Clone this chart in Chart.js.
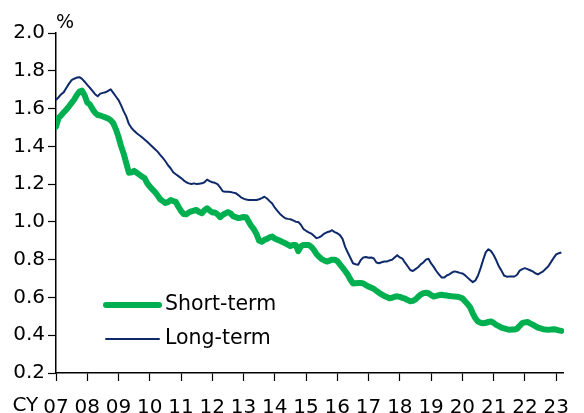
<!DOCTYPE html>
<html>
<head>
<meta charset="utf-8">
<script src="https://cdn.jsdelivr.net/npm/chart.js@4/dist/chart.umd.min.js"></script>
<style>
  html, body { margin: 0; padding: 0; background: #fff; }
  canvas { display: block; }
</style>
</head>
<body>
<canvas id="chart" width="584" height="413"></canvas>
<script>
// Monthly series, first observation January 2007
const startYear = 2007;
const seriesNames = ['Short-term', 'Long-term'];

const shortTerm = [
  1.504, 1.55, 1.565, 1.58, 1.595, 1.612, 1.63, 1.648, 1.672, 1.69, 1.695, 1.67,
  1.632, 1.622, 1.598, 1.578, 1.566, 1.563, 1.558, 1.553, 1.547, 1.538, 1.522, 1.49,
  1.45, 1.4, 1.36, 1.31, 1.26, 1.262, 1.27, 1.26, 1.25, 1.24, 1.232, 1.205,
  1.187, 1.172, 1.158, 1.14, 1.12, 1.11, 1.1, 1.105, 1.116, 1.11, 1.106, 1.08,
  1.058, 1.042, 1.04, 1.05, 1.056, 1.06, 1.063, 1.052, 1.046, 1.062, 1.072, 1.06,
  1.05, 1.05, 1.04, 1.025, 1.037, 1.045, 1.052, 1.045, 1.03, 1.025, 1.02, 1.022,
  1.026, 1.025, 1.0, 0.978, 0.96, 0.935, 0.9, 0.895, 0.905, 0.91, 0.918, 0.922,
  0.912, 0.906, 0.9, 0.893, 0.887, 0.88, 0.872, 0.878, 0.878, 0.845, 0.87, 0.878,
  0.878, 0.878, 0.868, 0.852, 0.83, 0.815, 0.803, 0.796, 0.79, 0.795, 0.8, 0.8,
  0.792, 0.775, 0.758, 0.74, 0.72, 0.695, 0.674, 0.675, 0.676, 0.676, 0.674, 0.665,
  0.657, 0.652, 0.645, 0.635, 0.625, 0.616, 0.608, 0.602, 0.596, 0.598, 0.604, 0.606,
  0.603, 0.598, 0.594, 0.586, 0.58, 0.582, 0.59, 0.603, 0.615, 0.623, 0.625, 0.622,
  0.612, 0.605, 0.608, 0.612, 0.614, 0.612, 0.61, 0.608, 0.606, 0.605, 0.604, 0.6,
  0.595, 0.58, 0.565, 0.548, 0.515, 0.49, 0.472, 0.466, 0.463, 0.466, 0.47, 0.473,
  0.465, 0.455, 0.448, 0.44, 0.436, 0.432, 0.429, 0.43, 0.43, 0.435, 0.45, 0.464,
  0.468, 0.47, 0.463, 0.456, 0.448, 0.44, 0.436, 0.432, 0.43, 0.429, 0.43, 0.432,
  0.43, 0.426, 0.423
];

const longTerm = [
  1.645, 1.66, 1.676, 1.687, 1.71, 1.732, 1.75, 1.758, 1.764, 1.766, 1.757, 1.742,
  1.725, 1.71, 1.694, 1.676, 1.665, 1.679, 1.683, 1.686, 1.694, 1.702, 1.683, 1.664,
  1.645, 1.617, 1.585, 1.557, 1.518, 1.497, 1.482, 1.469, 1.459, 1.448, 1.436, 1.424,
  1.411, 1.398, 1.385, 1.372, 1.355, 1.339, 1.321, 1.3, 1.284, 1.263, 1.252, 1.242,
  1.232, 1.22, 1.21, 1.204, 1.201, 1.204, 1.2, 1.202, 1.204, 1.21, 1.224, 1.216,
  1.21, 1.207, 1.2, 1.183, 1.162, 1.16, 1.16, 1.158, 1.155, 1.152, 1.142, 1.13,
  1.123, 1.118, 1.116, 1.116, 1.116, 1.116, 1.12, 1.126, 1.133, 1.124, 1.11, 1.097,
  1.075, 1.058, 1.042, 1.03, 1.019, 1.016, 1.014, 1.008, 1.001, 1.0, 0.985, 0.962,
  0.953, 0.945, 0.938, 0.926, 0.914, 0.918, 0.926, 0.938, 0.945, 0.949, 0.956, 0.946,
  0.94, 0.93, 0.91, 0.868, 0.838, 0.81, 0.781, 0.776, 0.773, 0.798, 0.812, 0.814,
  0.81, 0.812, 0.806, 0.785, 0.781, 0.786, 0.79, 0.79, 0.796, 0.8, 0.812, 0.824,
  0.812, 0.805, 0.784, 0.765, 0.745, 0.74, 0.75, 0.76, 0.775, 0.785, 0.8, 0.805,
  0.78, 0.762, 0.74, 0.722, 0.706, 0.705, 0.716, 0.722, 0.732, 0.738, 0.735, 0.73,
  0.727, 0.718, 0.705, 0.692, 0.681, 0.69, 0.716, 0.755, 0.8, 0.84, 0.855, 0.845,
  0.825, 0.797, 0.765, 0.742, 0.716, 0.71, 0.711, 0.711, 0.711, 0.72, 0.742, 0.75,
  0.755, 0.75, 0.744, 0.738, 0.728, 0.722, 0.73, 0.738, 0.752, 0.765, 0.787, 0.808,
  0.828, 0.834, 0.838
];

const yearTicks = [2007, 2008, 2009, 2010, 2011, 2012, 2013, 2014, 2015,
                   2016, 2017, 2018, 2019, 2020, 2021, 2022, 2023];
const yearLabels = ['07', '08', '09', '10', '11', '12', '13', '14', '15',
                    '16', '17', '18', '19', '20', '21', '22', '23'];
const yTicks = [0.2, 0.4, 0.6, 0.8, 1.0, 1.2, 1.4, 1.6, 1.8, 2.0];
const axisPrefix = 'CY';
const unitLabel = '%';

const GREEN = '#00B050';
const NAVY = '#0F2A6B';
const FONT = '"DejaVu Sans", "Liberation Sans", Arial, sans-serif';
const TICK_LEN = 8;
const X_PAD = 15;

function toPoints(values) {
  return values.map((v, i) => ({ x: startYear + i / 12, y: v }));
}

// Extra text and the legend key drawn on top of the chart
const annotations = {
  id: 'annotations',
  afterDraw(chart) {
    const ctx = chart.ctx;
    const xs = chart.scales.x;
    const ys = chart.scales.y;
    ctx.save();
    ctx.fillStyle = '#000';

    // unit above the value axis
    ctx.font = '19px ' + FONT;
    ctx.textAlign = 'left';
    ctx.textBaseline = 'alphabetic';
    ctx.fillText(unitLabel, ys.right, ys.top - 5);

    // calendar-year prefix in front of the first year label
    ctx.font = '20px ' + FONT;
    const firstW = ctx.measureText(yearLabels[0]).width;
    ctx.textAlign = 'right';
    ctx.textBaseline = 'top';
    ctx.fillText(axisPrefix, xs.getPixelForValue(yearTicks[0]) - firstW / 2 - 5,
                 xs.top + TICK_LEN + X_PAD);

    // legend key inside the plot
    const keys = [
      { ds: chart.data.datasets[0], y: ys.top + 272 },
      { ds: chart.data.datasets[1], y: ys.top + 306 }
    ];
    const x0 = xs.left + 50, x1 = xs.left + 103;
    ctx.font = '20.5px ' + FONT;
    ctx.textAlign = 'left';
    ctx.textBaseline = 'middle';
    keys.forEach(k => {
      ctx.strokeStyle = k.ds.borderColor;
      ctx.lineWidth = k.ds.borderWidth;
      ctx.lineCap = 'round';
      ctx.beginPath();
      ctx.moveTo(x0, k.y);
      ctx.lineTo(x1, k.y);
      ctx.stroke();
      ctx.fillStyle = '#000';
      ctx.fillText(k.ds.label, x1 + 6, k.y);
    });
    ctx.restore();
  }
};

new Chart(document.getElementById('chart'), {
  type: 'line',
  data: {
    datasets: [
      {
        label: seriesNames[0],
        data: toPoints(shortTerm),
        borderColor: GREEN,
        borderWidth: 6,
        borderCapStyle: 'round',
        borderJoinStyle: 'round',
        pointRadius: 0,
        tension: 0
      },
      {
        label: seriesNames[1],
        data: toPoints(longTerm),
        borderColor: NAVY,
        borderWidth: 2,
        borderJoinStyle: 'round',
        pointRadius: 0,
        tension: 0
      }
    ]
  },
  options: {
    responsive: false,
    animation: false,
    devicePixelRatio: 1,
    layout: { padding: { top: 33, right: 8, left: 0, bottom: 0 } },
    plugins: {
      legend: { display: false },
      tooltip: { enabled: false },
      title: { display: false }
    },
    scales: {
      x: {
        type: 'linear',
        min: 2007,
        max: 2023.25,
        afterFit(s) { s.height = 40; },
        afterBuildTicks(s) { s.ticks = yearTicks.map(v => ({ value: v })); },
        grid: {
          drawOnChartArea: false,
          drawTicks: true,
          tickLength: TICK_LEN,
          tickColor: '#000',
          tickWidth: 1.2
        },
        border: { display: true, color: '#000', width: 1.5 },
        ticks: {
          autoSkip: false,
          maxRotation: 0,
          padding: X_PAD,
          color: '#000',
          font: { family: FONT, size: 20 },
          callback(v) {
            const i = yearTicks.indexOf(v);
            return i >= 0 ? yearLabels[i] : '';
          }
        }
      },
      y: {
        type: 'linear',
        min: 0.2,
        max: 2.0,
        afterFit(s) { s.width = 56; },
        afterBuildTicks(s) { s.ticks = yTicks.map(v => ({ value: v })); },
        grid: {
          drawOnChartArea: false,
          drawTicks: true,
          tickLength: TICK_LEN,
          tickColor: '#000',
          tickWidth: 1.2
        },
        border: { display: true, color: '#000', width: 1.5 },
        ticks: {
          padding: 3,
          color: '#000',
          font: { family: FONT, size: 20 },
          callback(v) { return v.toFixed(1); }
        }
      }
    }
  },
  plugins: [annotations]
});
</script>
</body>
</html>
